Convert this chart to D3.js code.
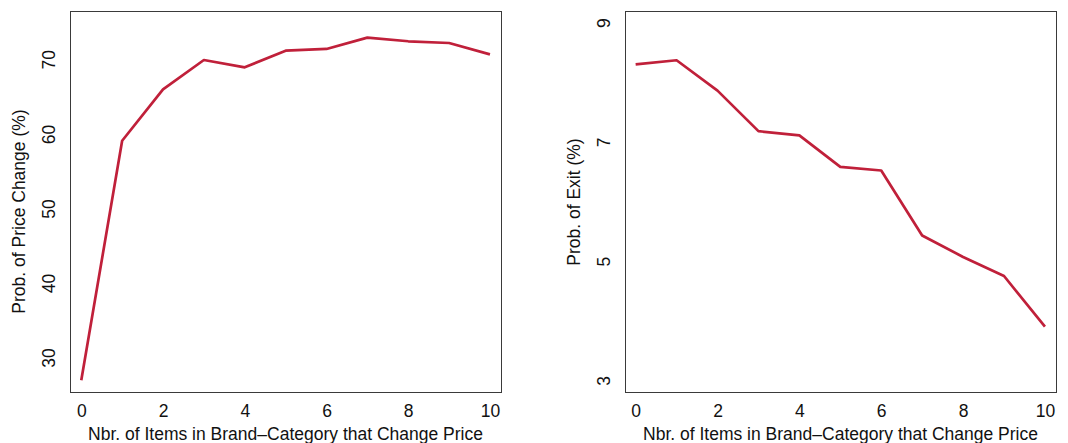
<!DOCTYPE html>
<html>
<head>
<meta charset="utf-8">
<script src="https://cdn.jsdelivr.net/npm/d3@7"></script>
<style>
  html, body { margin: 0; padding: 0; background: #fff; }
  svg text { font-family: "Liberation Sans", Arial, Helvetica, sans-serif; fill: #111; }
</style>
</head>
<body>
<svg id="chart" width="1068" height="443"></svg>
<script>
// Number of items in the brand-category that change price
const nItems = [0, 1, 2, 3, 4, 5, 6, 7, 8, 9, 10];
// Probability of a price change (%)
const probPriceChange = [26.96, 59.08, 65.97, 69.91, 68.93, 71.16, 71.39, 72.91, 72.42, 72.19, 70.67];
// Probability of exit (%)
const probExit = [8.30, 8.37, 7.86, 7.18, 7.11, 6.58, 6.52, 5.43, 5.07, 4.75, 3.90];

const xTicks = [0, 2, 4, 6, 8, 10];
const yTicksPrice = [30, 40, 50, 60, 70];
const yTicksExit = [3, 5, 7, 9];

const xTitle = "Nbr. of Items in Brand\u2013Category that Change Price";

const svg = d3.select("#chart");
const lineColor = "#c0203a";
const fontSize = 17.5;

function panel(opts) {
  const { left, right, top, bottom, xDomain, yDomain, ys, yTicks, yTitle, yTitleCenter } = opts;
  const x = d3.scaleLinear().domain(xDomain).range([left, right]);
  const y = d3.scaleLinear().domain(yDomain).range([bottom, top]);
  const g = svg.append("g");

  // data line
  const line = d3.line().x((d, i) => x(nItems[i])).y(d => y(d));
  g.append("path")
    .datum(ys)
    .attr("d", line)
    .attr("fill", "none")
    .attr("stroke", lineColor)
    .attr("stroke-width", 2.7)
    .attr("stroke-linejoin", "round");

  // frame
  g.append("rect")
    .attr("x", left + 0.5).attr("y", top + 0.5)
    .attr("width", right - left).attr("height", bottom - top)
    .attr("fill", "none").attr("stroke", "#3a3a3a").attr("stroke-width", 1);

  // x axis (labels only)
  const xa = g.append("g")
    .attr("transform", `translate(0,${bottom})`)
    .call(d3.axisBottom(x).tickValues(xTicks).tickSize(0).tickPadding(12.5).tickFormat(d3.format("d")));
  xa.select(".domain").remove();
  xa.attr("font-family", null);
  xa.selectAll("text").attr("font-size", fontSize);

  // y axis (labels parallel to the axis)
  const ya = g.append("g")
    .attr("transform", `translate(${left},0)`)
    .call(d3.axisLeft(y).tickValues(yTicks).tickSize(0).tickFormat(d3.format("d")));
  ya.select(".domain").remove();
  ya.attr("font-family", null);
  ya.selectAll("text")
    .attr("x", null).attr("dy", null)
    .attr("text-anchor", "middle")
    .attr("transform", "translate(-15.5,0) rotate(-90)")
    .attr("font-size", fontSize);

  // titles
  g.append("text")
    .attr("x", (left + right) / 2).attr("y", 439.5)
    .attr("text-anchor", "middle").attr("font-size", fontSize)
    .text(xTitle);
  g.append("text")
    .attr("transform", `translate(${left - 45},${yTitleCenter}) rotate(-90)`)
    .attr("text-anchor", "middle").attr("font-size", fontSize)
    .text(yTitle);
}

panel({
  left: 70, right: 501, top: 11, bottom: 392,
  xDomain: [-0.276, 10.27], yDomain: [25.39, 76.48],
  ys: probPriceChange, yTicks: yTicksPrice,
  yTitle: "Prob. of Price Change (%)", yTitleCenter: 211.5
});

panel({
  left: 625, right: 1056, top: 11, bottom: 392,
  xDomain: [-0.26, 10.27], yDomain: [2.804, 9.196],
  ys: probExit, yTicks: yTicksExit,
  yTitle: "Prob. of Exit (%)", yTitleCenter: 202
});
</script>
</body>
</html>
